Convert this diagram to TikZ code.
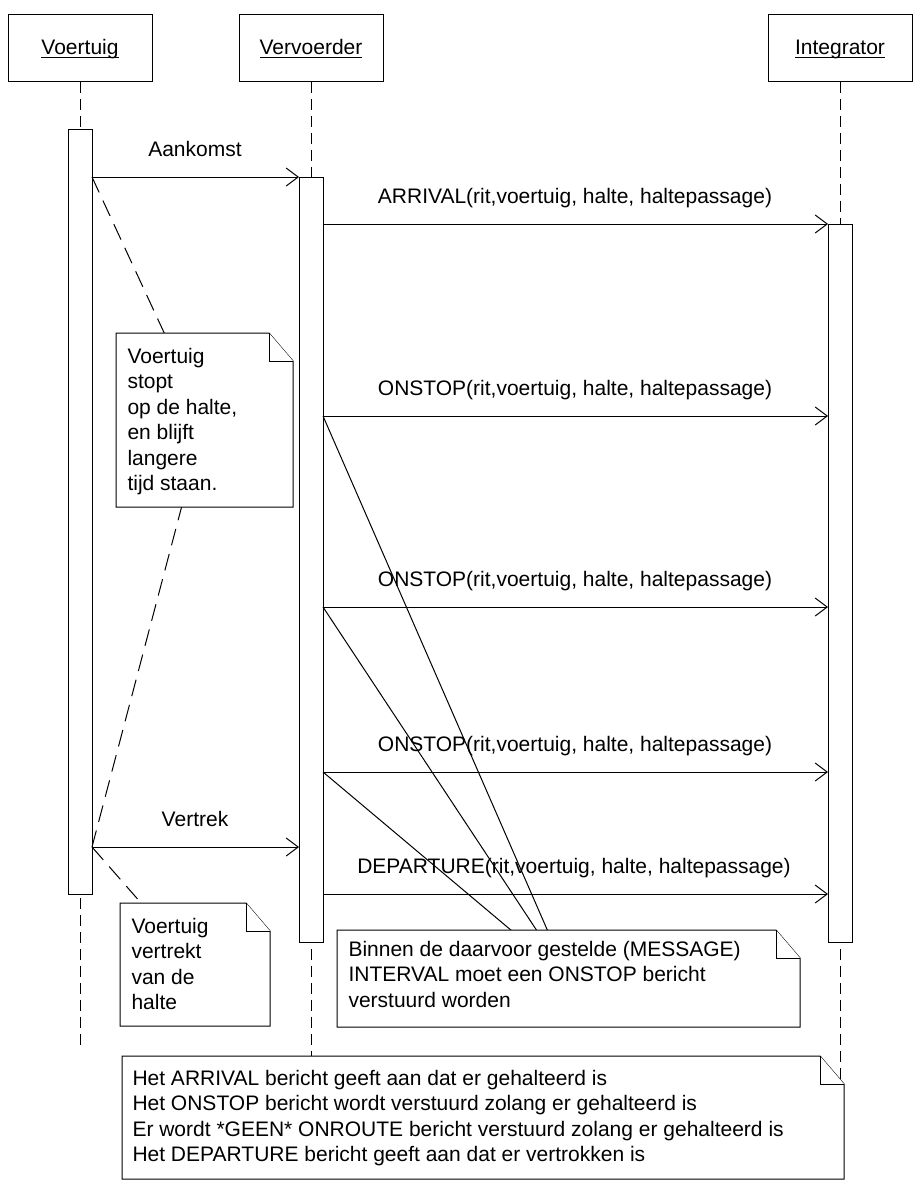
\documentclass[tikz,border=0pt]{standalone}
\usepackage{fontspec}
\setmainfont{Liberation Sans}
\usetikzlibrary{arrows.meta}
\newcommand\hdul[1]{\leavevmode\setbox0=\hbox{#1}\copy0\llap{\rule[-3.5pt]{\wd0}{1pt}}}
\newcommand\umlnote[4]{%
  \filldraw[notebox] (#1,#2) -- ({#3-24},#2) -- (#3,{#2+28}) -- (#3,#4) -- (#1,#4) -- cycle;
  \draw[notebox] ({#3-24},#2) -- ({#3-24},{#2+28}) -- (#3,{#2+28});
}
\begin{document}
\begin{tikzpicture}[x=1pt,y=-1pt, line width=1pt,
  every node/.style={font=\fontsize{21}{25.4}\selectfont, inner sep=0pt},
  head/.style={draw, fill=white, minimum width=144pt, minimum height=67pt, text height=15pt, text depth=2pt},
  life/.style={dash pattern=on 11pt off 6pt},
  act/.style={draw, fill=white, minimum width=24pt},
  msg/.style={-{Straight Barb[length=12pt,width=18pt,line width=1pt]}},
  anchorline/.style={dash pattern=on 17pt off 9pt},
  noteline/.style={},
  notebox/.style={fill=white, line join=miter},
  lbl/.style={anchor=base},
  notetext/.style={anchor=north west, align=left},
]
\useasboundingbox (0,0) rectangle (913,1181);
% lifeline ends
\coordinate (lvEnd) at (80,1045);
\coordinate (lrEnd) at (311,1100);
\coordinate (liEnd) at (840,1100);
% header boxes
\node[head] (hV) at (80,47.5) {\hdul{Voertuig}};
\node[head] (hR) at (311,47.5) {\hdul{Vervoerder}};
\node[head] (hI) at (840,47.5) {\hdul{Integrator}};
% lifelines
\draw[life] (hV.south) -- (lvEnd);
\draw[life] (hR.south) -- (lrEnd);
\draw[life] (hI.south) -- (liEnd);
% activation boxes
\node[act, minimum height=765pt] (aV) at (80,511.5) {};
\node[act, minimum height=765pt] (aR) at (311,559.5) {};
\node[act, minimum height=718pt] (aI) at (840,583) {};
% message end points
\coordinate (m1s) at (92,177);  \coordinate (m1e) at (299,177);
\coordinate (m2s) at (323,224); \coordinate (m2e) at (828,224);
\coordinate (m3s) at (323,416); \coordinate (m3e) at (828,416);
\coordinate (m4s) at (323,607); \coordinate (m4e) at (828,607);
\coordinate (m5s) at (323,772); \coordinate (m5e) at (828,772);
\coordinate (m6s) at (92,847);  \coordinate (m6e) at (299,847);
\coordinate (m7s) at (323,894); \coordinate (m7e) at (828,894);
% messages
\draw[msg] (m1s) -- (m1e);
\draw[msg] (m2s) -- (m2e);
\draw[msg] (m3s) -- (m3e);
\draw[msg] (m4s) -- (m4e);
\draw[msg] (m5s) -- (m5e);
\draw[msg] (m6s) -- (m6e);
\draw[msg] (m7s) -- (m7e);
% labels
\node[lbl] (l1) at (195,156) {Aankomst};
\node[lbl] (l2) at (575,203) {ARRIVAL(rit,voertuig, halte, haltepassage)};
\node[lbl] (l3) at (575,395) {ONSTOP(rit,voertuig, halte, haltepassage)};
\node[lbl] (l4) at (575,586) {ONSTOP(rit,voertuig, halte, haltepassage)};
\node[lbl] (l5) at (575,751) {ONSTOP(rit,voertuig, halte, haltepassage)};
\node[lbl] (l6) at (195,826) {Vertrek};
\node[lbl] (l7) at (574,873) {DEPARTURE(rit,voertuig, halte, haltepassage)};
% note anchor points (note centres)
\coordinate (n1c) at (204.5,420);
\coordinate (n2c) at (195,964.5);
\coordinate (n3c) at (568.5,978.5);
% note anchor lines
\draw[anchorline] (m1s) -- (n1c);
\draw[anchorline] (m6s) -- (n1c);
\draw[anchorline] (m6s) -- (n2c);
\draw[noteline] (m3s) -- (n3c);
\draw[noteline] (m4s) -- (n3c);
\draw[noteline] (m5s) -- (n3c);
% notes
\umlnote{116}{333}{293}{507}
\node[notetext] (n1t) at (127,345.2) {\strut Voertuig\\stopt\\op de halte,\\en blijft\\langere\\tijd staan.};
\umlnote{120}{903}{270}{1026}
\node[notetext] (n2t) at (131,915.2) {\strut Voertuig\\vertrekt\\van de\\halte};
\umlnote{337}{930}{800}{1027}
\node[notetext] (n3t) at (348,938.2) {\strut Binnen de daarvoor gestelde (MESSAGE)\\INTERVAL moet een ONSTOP bericht\\verstuurd worden};
\umlnote{122}{1056}{844}{1179}
\node[notetext] (n4t) at (132,1067.2) {\strut Het ARRIVAL bericht geeft aan dat er gehalteerd is\\Het ONSTOP bericht wordt verstuurd zolang er gehalteerd is\\Er wordt *GEEN* ONROUTE bericht verstuurd zolang er gehalteerd is\\Het DEPARTURE bericht geeft aan dat er vertrokken is};
\end{tikzpicture}
\end{document}
